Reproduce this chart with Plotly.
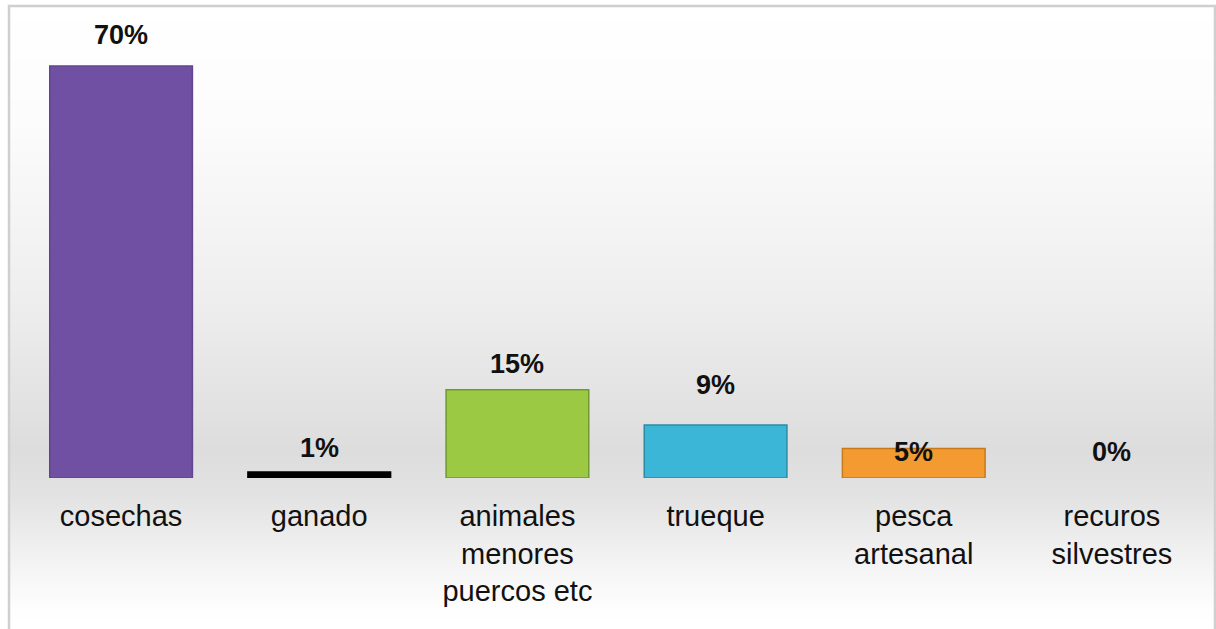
import plotly.graph_objects as go

# ---- data ----
categories = ["cosechas", "ganado", "animales menores puercos etc", "trueque",
              "pesca artesanal", "recuros silvestres"]
values = [70, 1, 15, 9, 5, 0]
value_labels = ["70%", "1%", "15%", "9%", "5%", "0%"]
tick_labels = ["cosechas", "ganado", "animales<br>menores<br>puercos etc", "trueque",
               "pesca<br>artesanal", "recuros<br>silvestres"]

# ---- style ----
bar_colors = ["#7050a2", "#000000", "#9bc944", "#3cb6d6", "#f39b30", "rgba(0,0,0,0)"]
edge_colors = ["#62448f", "#000000", "#6f9a2e", "#2a8ba8", "#c77a1c", "rgba(0,0,0,0)"]
label_shift = [31, 24, 26, 40, -3, 26]  # px above bar top (visual placement)

W, H = 1216, 629
plot_left, plot_right, plot_top, plot_bottom = 22, 1211, 6, 478
FONT = "Liberation Sans, Arial, sans-serif"

fig = go.Figure()
fig.add_trace(go.Bar(
    x=categories, y=values,
    marker=dict(color=bar_colors, line=dict(color=edge_colors, width=1.5)),
    hoverinfo="skip",
))

for c, v, t, s in zip(categories, values, value_labels, label_shift):
    fig.add_annotation(x=c, y=v, xref="x", yref="y", text="<b>%s</b>" % t,
                       showarrow=False, yanchor="middle", yshift=s,
                       font=dict(family=FONT, size=27, color="#111111"))

# background gradient (light -> grey -> light), drawn as thin bands
stops = [(0, 255), (120, 252), (300, 238), (450, 221), (500, 227),
         (560, 243), (610, 254), (629, 255)]

def grey_at(py):
    for (a, ca), (b, cb) in zip(stops[:-1], stops[1:]):
        if a <= py <= b:
            t = (py - a) / (b - a)
            return int(round(ca + (cb - ca) * t))
    return 255

shapes = []
step = 4
for py in range(0, H, step):
    g = grey_at(py + step / 2)
    shapes.append(dict(type="rect", xref="paper", yref="paper",
                       x0=8 / W, x1=1215 / W, y0=1 - (py + step + 0.5) / H, y1=1 - py / H,
                       fillcolor="rgb(%d,%d,%d)" % (g, g, g), line=dict(width=0),
                       layer="below"))
shapes.append(dict(type="rect", xref="paper", yref="paper",
                   x0=9 / W, x1=1215 / W, y0=-0.02, y1=1 - 6 / H,
                   line=dict(color="#cfcfcf", width=2.5), fillcolor="rgba(0,0,0,0)",
                   layer="below"))

fig.update_layout(
    width=W, height=H,
    margin=dict(l=0, r=0, t=0, b=0),
    paper_bgcolor="white",
    plot_bgcolor="rgba(0,0,0,0)",
    bargap=0.28,
    showlegend=False,
    shapes=shapes,
    font=dict(family=FONT, color="#111111"),
    xaxis=dict(domain=[plot_left / W, plot_right / W],
               tickmode="array", tickvals=categories, ticktext=tick_labels,
               tickfont=dict(family=FONT, size=29, color="#111111"),
               ticklabelstandoff=18,
               showgrid=False, zeroline=False, showline=False, ticks="",
               fixedrange=True),
    yaxis=dict(domain=[1 - plot_bottom / H, 1 - plot_top / H],
               range=[0, 70 * (plot_bottom - plot_top) / (plot_bottom - 66)],
               visible=False, showgrid=False, zeroline=False, fixedrange=True),
)

fig.write_html("out.html", config={"displayModeBar": False},
               post_script="document.body.style.margin='0';"
                           "document.body.style.overflow='hidden';")
